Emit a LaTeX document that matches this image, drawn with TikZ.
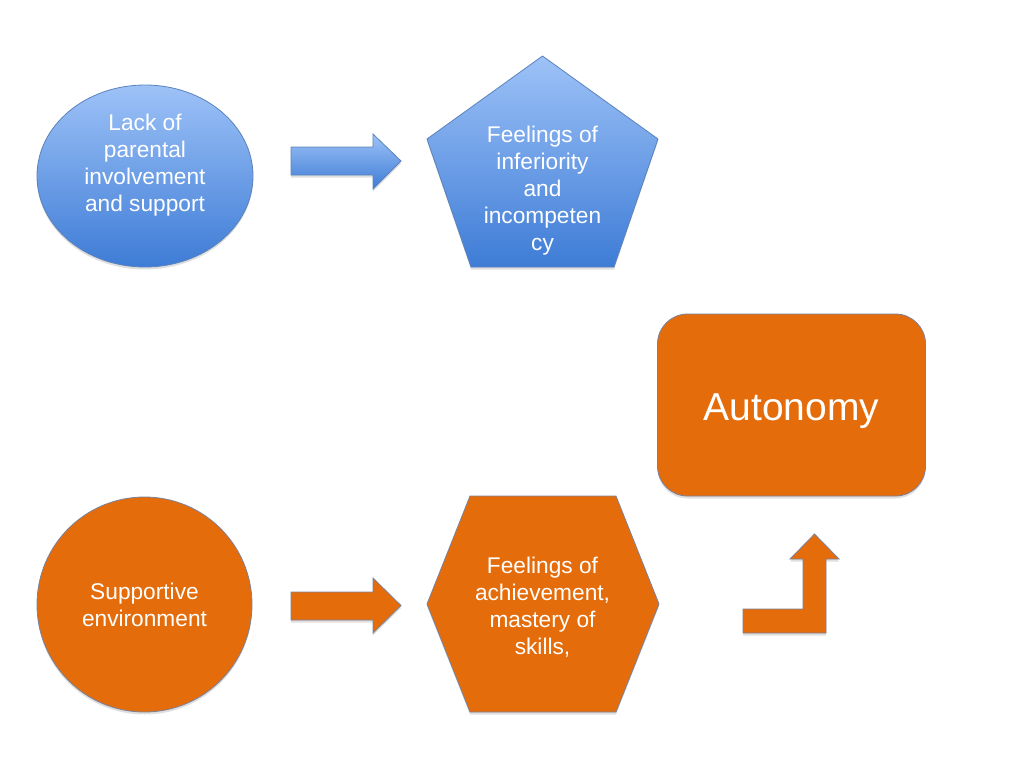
\documentclass[tikz,border=0pt]{standalone}
\usepackage{fontspec}
\setmainfont{Liberation Sans}
\usetikzlibrary{shapes.geometric,shadows}
\definecolor{orng}{HTML}{E46C0A}
\definecolor{bltop}{HTML}{9DC2F7}
\definecolor{blbot}{HTML}{3E7CD6}
\definecolor{blline}{HTML}{5B82BC}
\definecolor{orline}{HTML}{7C8199}
\tikzset{
  shd/.style={drop shadow={opacity=0.25,shadow xshift=0pt,shadow yshift=-2.5pt}},
  blueshape/.style={top color=bltop,bottom color=blbot,draw=blline,line width=0.8pt,shd},
  orangeshape/.style={fill=orng,draw=orline,line width=0.8pt,shd},
  txt/.style={text=white,align=center,font=\fontsize{22.7}{27}\selectfont,inner sep=0pt},
}
\begin{document}
\begin{tikzpicture}[x=1pt,y=-1pt]
\useasboundingbox (0,0) rectangle (1024,768);
% blue row
\node[ellipse,blueshape,minimum width=216pt,minimum height=182pt,inner sep=0pt] (c1) at (145,176) {};
\node[txt] (t1) at (145,165) {Lack of\\parental\\involvement\\and support};
\path[blueshape] (291,147) -- (373,147) -- (373,134) -- (401,161) -- (373,189) -- (373,175) -- (291,175) -- cycle;
\path[blueshape] (542.5,56) -- (658,139) -- (614,267) -- (471,267) -- (427,139) -- cycle;
\node[txt] (t2) at (542.5,190.5) {Feelings of\\inferiority\\and\\incompeten\\cy};
% orange row
\node[ellipse,orangeshape,minimum width=215pt,minimum height=215pt,inner sep=0pt] (c2) at (144.5,604.5) {};
\node[txt] (t3) at (c2.center) {Supportive\\environment};
\path[orangeshape] (291,592) -- (373,592) -- (373,578) -- (401,605.5) -- (373,633) -- (373,620) -- (291,620) -- cycle;
\path[orangeshape] (470,496) -- (616,496) -- (659,604) -- (616,712) -- (470,712) -- (427,604) -- cycle;
\node[txt] (t4) at (542.5,607.5) {Feelings of\\achievement,\\mastery of\\skills,};
% autonomy
\node[rounded corners=30pt,orangeshape,minimum width=268pt,minimum height=182pt,inner sep=0pt] (auto) at (791.5,405) {};
\node[text=white,font=\fontsize{39}{44}\selectfont,inner sep=0pt] (t5) at (791.5,411) {Autonomy};
\path[orangeshape] (743,609) -- (803,609) -- (803,559) -- (790,559) -- (814.5,534) -- (839,559) -- (826,559) -- (826,633) -- (743,633) -- cycle;
\end{tikzpicture}
\end{document}
